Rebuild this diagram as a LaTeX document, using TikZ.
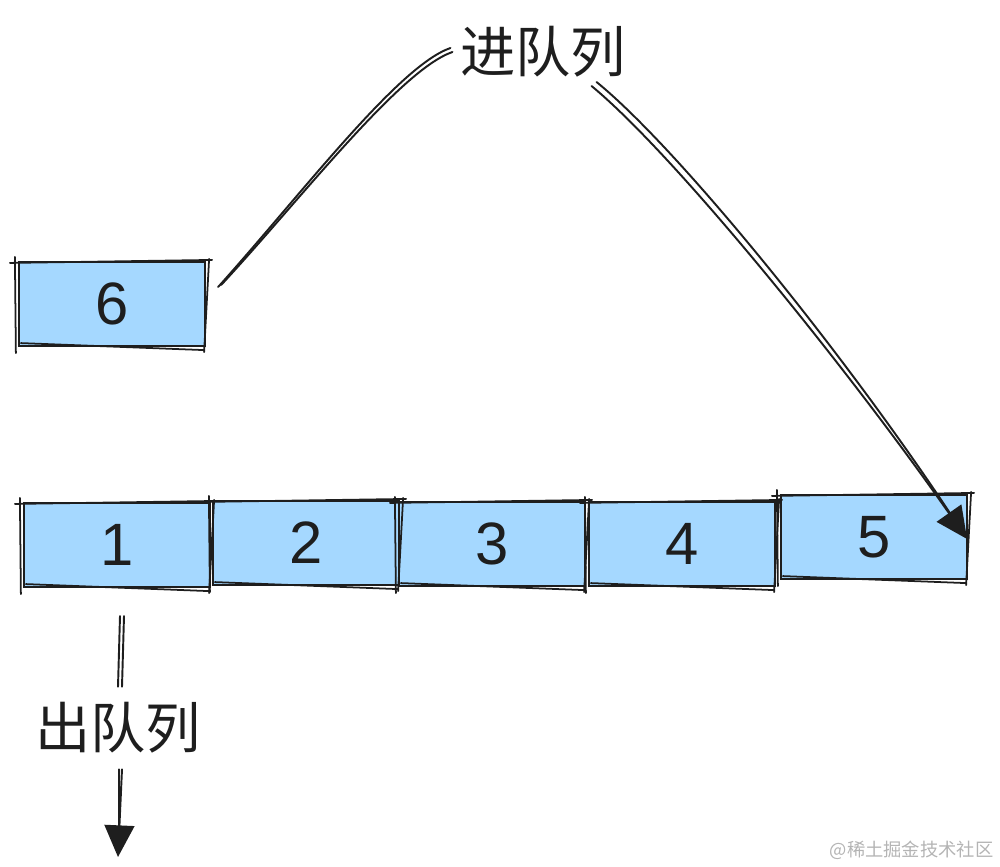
\documentclass[tikz,border=0pt]{standalone}
\usepackage{fontspec}
\setmainfont{Liberation Sans}
\newfontfamily\cjk{Noto Sans CJK SC}
\usetikzlibrary{arrows.meta}
\definecolor{ink}{HTML}{1E1E1E}
\definecolor{boxfill}{HTML}{A5D8FF}
\definecolor{wm}{HTML}{B4B4B4}
\tikzset{
  cell/.style={minimum width=1.86cm, minimum height=0.84cm, inner sep=0pt, fill=boxfill, draw=ink, line width=0.6pt, font=\fontsize{17}{18}\selectfont, text=ink},
  sk/.style={draw=ink, line width=0.5pt, line cap=round},
  lbl/.style={font=\cjk\fontsize{15.7}{18}\selectfont, text=ink, inner sep=2pt},
  conn/.style={draw=ink, line width=0.55pt, line cap=round},
  tip/.style={-{Triangle[width=8.5pt,length=9pt]}},
}
\newcommand{\sketchbox}[1]{%
  \draw[sk] ([shift={(-8,2)}]#1.north west) -- ([shift={(6,-1)}]#1.north east);
  \draw[sk] ([shift={(3,-4)}]#1.south west) -- ([shift={(-2,3)}]#1.south east);
  \draw[sk] ([shift={(-3,-4)}]#1.north west) -- ([shift={(-2,6)}]#1.south west);
  \draw[sk] ([shift={(3,-2)}]#1.north east) -- ([shift={(-2,5)}]#1.south east);
}
\begin{document}
\begin{tikzpicture}[x=0.01cm,y=-0.01cm]
\useasboundingbox (0,0) rectangle (1000,866);
% boxes
\node[cell] (b6) at (112,304) {6};
\node[cell] (b1) at (117,545) {1};
\node[cell] (b2) at (306,543) {2};
\node[cell] (b3) at (492,544) {3};
\node[cell] (b4) at (682,544) {4};
\node[cell] (b5) at (874,537) {5};
\foreach \b in {b6,b1,b2,b3,b4,b5} {\sketchbox{\b}}
% labels
\node[lbl] (tin) at (543,52) {进队列};
\node[lbl] (tout) at (118,728) {出队列};
\node[font=\cjk\fontsize{5.2}{6}\selectfont, text=wm, anchor=east, inner sep=0pt] (wmk) at (994,850) {@稀土掘金技术社区};
% anchor coordinates
\coordinate (s6) at ([shift={(15,-19)}]b6.east);
\coordinate (s6b) at ([shift={(12,-17)}]b6.east);
\coordinate (e5) at ([shift={(-1,2)}]b5.east);
% enqueue arrow
\draw[conn] (s6) .. controls (300,200) and (400,70) .. (tin.west);
\draw[conn] (s6b) .. controls (300,196) and (398,66) .. ([shift={(-2,-4)}]tin.west);
\draw[conn] ([shift={(-37,30)}]tin.east) .. controls (680,150) and (850,360) .. ([shift={(-8,-12)}]e5);
\draw[conn,tip] ([shift={(-42,34)}]tin.east) .. controls (675,155) and (845,365) .. (e5);
% dequeue arrow
\coordinate (d0) at ([shift={(3,28)}]b1.south);
\draw[conn] (d0) -- ([shift={(0,-8)}]tout.north);
\draw[conn] ([shift={(4,0)}]d0) -- ([shift={(4,-8)}]tout.north);
\coordinate (d1) at ([shift={(1,8)}]tout.south);
\draw[conn] (d1) -- (119,845);
\draw[conn,tip] ([shift={(3,0)}]d1) -- (118,857);
\end{tikzpicture}
\end{document}
